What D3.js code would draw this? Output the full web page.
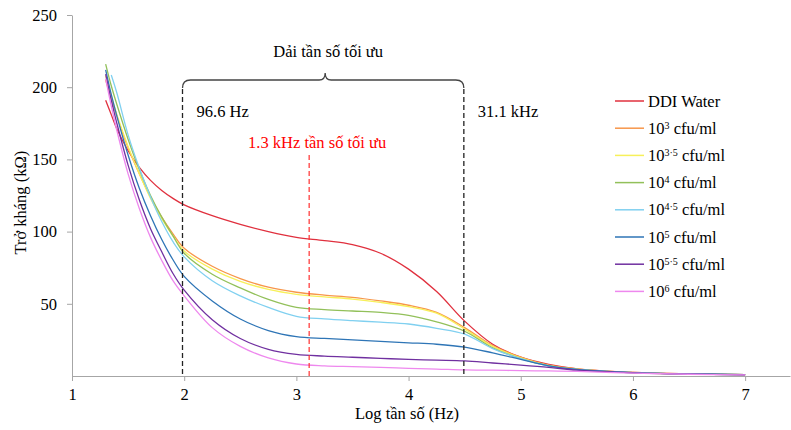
<!DOCTYPE html>
<html>
<head>
<meta charset="utf-8">
<script src="https://cdn.jsdelivr.net/npm/d3@7"></script>
<style>
    body { margin: 0; background: #fff; }
    svg text { font-family: "Times New Roman", "Liberation Serif", serif !important; fill: #000; }
    .axis path, .axis line { stroke: #a6a6a6; }
</style>
</head>
<body>
<div id="chart"></div>
<script>
// Log frequency (x) shared by every series
const logFreq = [1.3, 1.35, 1.4, 1.5, 1.6, 1.7, 1.8, 1.9, 2.0, 2.25, 2.5, 2.75, 3.0, 3.25, 3.5, 3.75, 4.0, 4.25, 4.5, 4.75, 5.0, 5.25, 5.5, 6.0, 6.5, 7.0];

// Impedance (kΩ) per sample
const ddiWater = [191, 181, 171, 156, 144.5, 135.5, 128.5, 123, 118.5, 111, 105, 100, 96, 93.8, 91, 85, 74, 58.5, 38, 22, 13, 8, 5, 2.5, 1.5, 1];
const cfu3 = [205, 192, 180, 158, 140, 124, 110, 98.5, 88.5, 76, 67.5, 61.5, 58, 56, 54.5, 52, 49, 44, 33.5, 21, 13, 7.5, 5, 2.5, 1.5, 1];
const cfu3_5 = [208, 194, 181, 159, 140, 123, 109, 97, 86.5, 74, 65.5, 60, 56.6, 54.8, 53.3, 51, 48, 43.5, 32.5, 20.5, 12.5, 7.2, 4.8, 2.4, 1.4, 1];
const cfu4 = [216, 201, 188, 164, 143, 125, 110, 97, 85, 70.5, 61, 53, 47.5, 46, 45, 44, 42, 37.5, 31, 19.5, 12, 7, 4.6, 2.3, 1.4, 1];
const cfu4_5 = [null, 208.5, 196, 167, 144, 124, 107, 93, 82.5, 66, 55.5, 47.5, 41.3, 39.5, 38.3, 37.3, 36, 33, 29, 19, 12, 7, 4.5, 2.3, 1.4, 1];
const cfu5 = [212, 195, 180, 153, 130, 111, 94.5, 80.5, 69, 52, 39.5, 31.5, 27.3, 26, 25, 24, 23, 22, 20, 16, 11.5, 7, 4.5, 2.3, 1.4, 1];
const cfu5_5 = [209, 191, 175, 146, 122, 102, 86, 71, 59.5, 39, 26, 18.5, 15, 13.8, 13, 12.2, 11.5, 11, 10.5, 9, 7.6, 6, 4, 2.2, 1.3, 0.8];
const cfu6 = [206, 187, 170, 140, 116, 96, 80, 66, 55.5, 33.5, 20.5, 12.5, 8.3, 7, 6.5, 6, 5.3, 4.8, 4.2, 4, 3.7, 3.5, 3.2, 2, 1.2, 0.8];

// Legend labels: base text, exponent (empty for none)
const seriesNames = ['DDI Water', '10', '10', '10', '10', '10', '10', '10'];
const seriesExponents = ['', '3', '3.5', '4', '4.5', '5', '5.5', '6'];
const seriesColors = ['#e0303e', '#f7964a', '#f7f05a', '#92c05a', '#80d0f0', '#2e75b6', '#7030a0', '#ee88ee'];
const seriesValues = [ddiWater, cfu3, cfu3_5, cfu4, cfu4_5, cfu5, cfu5_5, cfu6];

const xTicks = [1, 2, 3, 4, 5, 6, 7];
const yTicks = [50, 100, 150, 200, 250];

// Frequency markers (Hz)
const bandLow = 96.6;
const bandHigh = 31100;
const bestFreq = 1300;

const width = 791;
const height = 430;
const fontFamily = '"Times New Roman", "Liberation Serif", serif';
const fontSize = '16.5px';

const svg = d3.select('#chart')
    .append('svg')
    .attr('width', width)
    .attr('height', height)
    .attr('font-family', fontFamily);

const x = d3.scaleLinear().domain([1, 7.4]).range([72, 790]);
const y = d3.scaleLinear().domain([0, 250]).range([376, 15]);

// Axes
const xAxis = svg.append('g')
    .attr('class', 'axis')
    .attr('transform', `translate(0,${y(0)})`)
    .call(d3.axisBottom(x).tickValues(xTicks).tickSize(5).tickPadding(7).tickSizeOuter(0).tickFormat(d3.format('d')));

const yAxis = svg.append('g')
    .attr('class', 'axis')
    .attr('transform', `translate(${x(1)},0)`)
    .call(d3.axisLeft(y).tickValues(yTicks).tickSize(5).tickPadding(10).tickSizeOuter(0));

[xAxis, yAxis].forEach(g => {
    g.attr('font-family', fontFamily).attr('font-size', null);
    g.selectAll('text').style('font-size', fontSize);
});

// Axis titles
svg.append('text')
    .attr('x', 407)
    .attr('y', 419)
    .attr('text-anchor', 'middle')
    .style('font-size', fontSize)
    .text('Log tần số (Hz)');

svg.append('text')
    .attr('transform', `translate(26,${y(120)}) rotate(-90)`)
    .attr('text-anchor', 'middle')
    .style('font-size', fontSize)
    .text('Trở kháng (kΩ)');

// Series lines
const line = d3.line()
    .defined(d => d[1] !== null)
    .x(d => x(d[0]))
    .y(d => y(d[1]))
    .curve(d3.curveCatmullRom.alpha(0.5));

seriesValues.forEach((vals, i) => {
    svg.append('path')
        .datum(logFreq.map((f, j) => [f, vals[j]]))
        .attr('fill', 'none')
        .attr('stroke', seriesColors[i])
        .attr('stroke-width', 1.3)
        .attr('d', line);
});

// Dashed frequency markers
const lowX = x(Math.log10(bandLow));
const highX = x(Math.log10(bandHigh));
const bestX = x(Math.log10(bestFreq));

[lowX, highX].forEach(px => {
    svg.append('line')
        .attr('x1', px).attr('x2', px)
        .attr('y1', 89).attr('y2', y(0))
        .attr('stroke', '#222')
        .attr('stroke-width', 1.3)
        .attr('stroke-dasharray', '5,3');
});

svg.append('line')
    .attr('x1', bestX).attr('x2', bestX)
    .attr('y1', 155).attr('y2', y(0))
    .attr('stroke', '#ff3030')
    .attr('stroke-width', 1.2)
    .attr('stroke-dasharray', '5,3');

// Curly bracket over the optimal band
const midX = (lowX + highX) / 2 + 2;
const bracketY = 80;
svg.append('path')
    .attr('d', `M${lowX},${bracketY + 8} Q${lowX},${bracketY} ${lowX + 8},${bracketY} L${midX - 6},${bracketY} Q${midX},${bracketY} ${midX},${bracketY - 7} Q${midX},${bracketY} ${midX + 6},${bracketY} L${highX - 8},${bracketY} Q${highX},${bracketY} ${highX},${bracketY + 8}`)
    .attr('fill', 'none')
    .attr('stroke', '#444')
    .attr('stroke-width', 1.3);

svg.append('text')
    .attr('x', midX + 3)
    .attr('y', 57)
    .attr('text-anchor', 'middle')
    .style('font-size', fontSize)
    .text('Dải tần số tối ưu');

svg.append('text')
    .attr('x', lowX + 14)
    .attr('y', 117)
    .style('font-size', fontSize)
    .text('96.6 Hz');

svg.append('text')
    .attr('x', highX + 14)
    .attr('y', 117)
    .style('font-size', fontSize)
    .text('31.1 kHz');

svg.append('text')
    .attr('x', bestX + 8)
    .attr('y', 148)
    .attr('text-anchor', 'middle')
    .style('font-size', fontSize)
    .style('fill', '#ff0000')
    .text('1.3 kHz tần số tối ưu');

// Legend
const legend = svg.append('g').attr('transform', 'translate(615,101)');
seriesNames.forEach((name, i) => {
    const row = legend.append('g').attr('transform', `translate(0,${i * 27.2})`);
    row.append('line')
        .attr('x1', 0).attr('x2', 29)
        .attr('stroke', seriesColors[i])
        .attr('stroke-width', 1.5);
    const t = row.append('text')
        .attr('x', 33)
        .attr('y', 5.5)
        .style('font-size', fontSize)
        .text(name);
    if (seriesExponents[i]) {
        t.append('tspan')
            .attr('dy', -5)
            .style('font-size', '10px')
            .text(seriesExponents[i].replace('.', '·'));
        t.append('tspan')
            .attr('dy', 5)
            .text(' cfu/ml');
    }
});
</script>
</body>
</html>
